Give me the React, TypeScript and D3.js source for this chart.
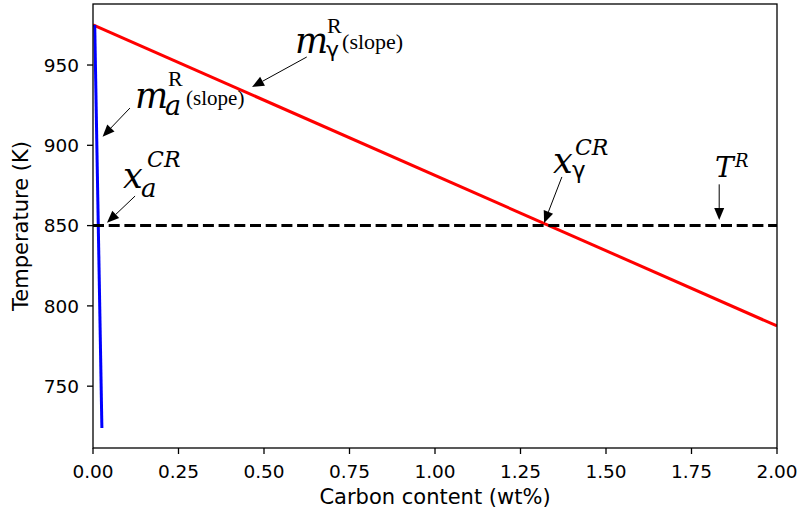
import React from "react";
import * as d3 from "d3";

// ---- data ----
const X_TICKS = [0, 0.25, 0.5, 0.75, 1.0, 1.25, 1.5, 1.75, 2.0];
const Y_TICKS = [750, 800, 850, 900, 950];
const X_DOMAIN = [0, 2.0];
const Y_DOMAIN = [711.5, 988];

const GAMMA_X = [0, 2.0];
const GAMMA_T = [975, 787.5];
const ALPHA_X = [0.005, 0.026];
const ALPHA_T = [975, 724];
const T_R = 850;
const T_R_X = [0, 2.0];

const X_LABEL = "Carbon content (wt%)";
const Y_LABEL = "Temperature (K)";

// annotation anchors (data coords)
const ANN_IDS = ["mg", "ma", "xa", "xg", "tr"];
const ANN_TIP_X = [0.465, 0.028, 0.041, 1.319, 1.831];
const ANN_TIP_T = [936.3, 905.4, 851.8, 851.6, 853.5];
const ANN_TAIL_X = [0.625, 0.108, 0.123, 1.371, 1.831];
const ANN_TAIL_T = [955.0, 923.2, 868.4, 880.3, 875.7];
const ANN_TEXT_X = [0.591, 0.123, 0.088, 1.345, 1.819];
const ANN_TEXT_T = [957.5, 923.2, 873.4, 882.8, 880.3];

// ---- layout ----
const W = 801;
const H = 517;
const M = { left: 93, right: 24, top: 4, bottom: 69 };

type Piece = { t: string; dx: number; dy: number; size: number; font: string; italic?: boolean };

const SERIF_I = "'DejaVu Serif', serif";
const TIMES = "'Liberation Serif', 'Times New Roman', serif";
const SANS = "'DejaVu Sans', sans-serif";

const PIECES: Record<string, Piece[]> = {
  mg: [
    { t: "m", dx: 0, dy: 0, size: 35, font: SERIF_I, italic: true },
    { t: "R", dx: 32, dy: -20, size: 22, font: TIMES },
    { t: "γ", dx: 31, dy: 4, size: 22, font: SANS },
    { t: "(slope)", dx: 47, dy: -4, size: 22, font: TIMES },
  ],
  ma: [
    { t: "m", dx: 0, dy: 0, size: 35, font: SERIF_I, italic: true },
    { t: "R", dx: 33, dy: -22, size: 22, font: TIMES },
    { t: "a", dx: 30, dy: 7, size: 27, font: SERIF_I, italic: true },
    { t: "(slope)", dx: 51, dy: -3, size: 21, font: TIMES },
  ],
  xa: [
    { t: "x", dx: 0, dy: 0, size: 35, font: SERIF_I, italic: true },
    { t: "a", dx: 18, dy: 9, size: 26, font: SERIF_I, italic: true },
    { t: "CR", dx: 24, dy: -21, size: 22, font: SERIF_I, italic: true },
  ],
  xg: [
    { t: "x", dx: 0, dy: 0, size: 35, font: SERIF_I, italic: true },
    { t: "γ", dx: 19, dy: 5, size: 23, font: SANS },
    { t: "CR", dx: 22, dy: -18, size: 22, font: SERIF_I, italic: true },
  ],
  tr: [
    { t: "T", dx: 0, dy: 0, size: 28, font: SERIF_I, italic: true },
    { t: "R", dx: 20, dy: -10, size: 18, font: SERIF_I, italic: true },
  ],
};

export default function App() {
  const x = d3.scaleLinear().domain(X_DOMAIN).range([M.left, W - M.right]);
  const y = d3.scaleLinear().domain(Y_DOMAIN).range([H - M.bottom, M.top]);
  const line = d3
    .line<[number, number]>()
    .x((d) => x(d[0]))
    .y((d) => y(d[1]));

  const gamma = GAMMA_X.map((v, i) => [v, GAMMA_T[i]] as [number, number]);
  const alpha = ALPHA_X.map((v, i) => [v, ALPHA_T[i]] as [number, number]);
  const dashed = T_R_X.map((v) => [v, T_R] as [number, number]);

  const x0 = M.left;
  const x1 = W - M.right;
  const y0 = M.top;
  const y1 = H - M.bottom;

  const arrows = ANN_IDS.map((id, i) => {
    const tx = x(ANN_TIP_X[i]);
    const ty = y(ANN_TIP_T[i]);
    const sx = x(ANN_TAIL_X[i]);
    const sy = y(ANN_TAIL_T[i]);
    const len = Math.hypot(tx - sx, ty - sy);
    const ux = (tx - sx) / len;
    const uy = (ty - sy) / len;
    const L = 12;
    const Wd = 5;
    const bx = tx - ux * L;
    const by = ty - uy * L;
    const nx = -uy;
    const ny = ux;
    return (
      <g key={id}>
        <line x1={sx} y1={sy} x2={bx} y2={by} stroke="#000" strokeWidth={1} />
        <polygon
          points={`${tx},${ty} ${bx + nx * Wd},${by + ny * Wd} ${bx - nx * Wd},${by - ny * Wd}`}
          fill="#000"
        />
      </g>
    );
  });

  const labels = ANN_IDS.map((id, i) => {
    const ax = x(ANN_TEXT_X[i]);
    const ay = y(ANN_TEXT_T[i]);
    return (
      <text key={id} fill="#000">
        {PIECES[id].map((p, j) => (
          <tspan
            key={j}
            x={ax + p.dx}
            y={ay + p.dy}
            fontFamily={p.font}
            fontSize={p.size}
            fontStyle={p.italic ? "italic" : "normal"}
          >
            {p.t}
          </tspan>
        ))}
      </text>
    );
  });

  return (
    <svg
      width={W}
      height={H}
      style={{ position: "absolute", left: 0, top: 0, background: "#fff" }}
    >
      <rect x={0} y={0} width={W} height={H} fill="#fff" />
      <defs>
        <clipPath id="plotclip">
          <rect x={x0} y={y0} width={x1 - x0} height={y1 - y0} />
        </clipPath>
      </defs>
      <g clipPath="url(#plotclip)">
        <path d={line(gamma) || ""} stroke="#ff0000" strokeWidth={3} fill="none" />
        <path d={line(alpha) || ""} stroke="#0000ff" strokeWidth={3} fill="none" />
        <path
          d={line(dashed) || ""}
          stroke="#000"
          strokeWidth={3}
          strokeDasharray="11,4.7"
          fill="none"
        />
      </g>
      {arrows}
      {labels}
      {/* spines */}
      <rect x={x0} y={y0} width={x1 - x0} height={y1 - y0} fill="none" stroke="#000" strokeWidth={1.3} />
      {/* x ticks */}
      {X_TICKS.map((t) => (
        <g key={"x" + t}>
          <line x1={x(t)} x2={x(t)} y1={y1} y2={y1 + 6} stroke="#000" strokeWidth={1.3} />
          <text
            x={x(t)}
            y={y1 + 30}
            textAnchor="middle"
            fontFamily={SANS}
            fontSize={18.5}
            fill="#000"
          >
            {t.toFixed(2)}
          </text>
        </g>
      ))}
      {/* y ticks */}
      {Y_TICKS.map((t) => (
        <g key={"y" + t}>
          <line x1={x0 - 6} x2={x0} y1={y(t)} y2={y(t)} stroke="#000" strokeWidth={1.3} />
          <text
            x={x0 - 14}
            y={y(t) + 6.7}
            textAnchor="end"
            fontFamily={SANS}
            fontSize={18.5}
            fill="#000"
          >
            {t}
          </text>
        </g>
      ))}
      <text
        x={(x0 + x1) / 2}
        y={504}
        textAnchor="middle"
        fontFamily={SANS}
        fontSize={21}
        fill="#000"
      >
        {X_LABEL}
      </text>
      <text
        transform={`translate(28,${(y0 + y1) / 2}) rotate(-90)`}
        textAnchor="middle"
        fontFamily={SANS}
        fontSize={21}
        fill="#000"
      >
        {Y_LABEL}
      </text>
    </svg>
  );
}
